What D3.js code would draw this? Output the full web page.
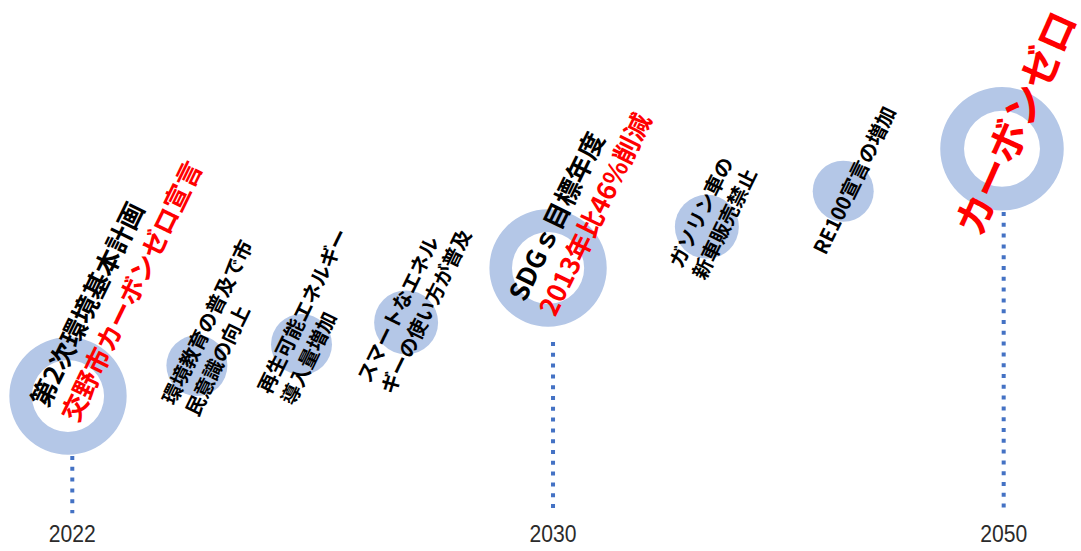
<!DOCTYPE html>
<html lang="ja">
<head>
<meta charset="utf-8">
<title>交野市 カーボンゼロへの道のり</title>
<script src="https://cdn.jsdelivr.net/npm/d3@7"></script>
<style>
  html, body { margin: 0; padding: 0; background: #ffffff; }
  svg { display: block; }
</style>
</head>
<body>
<div id="chart"></div>
<script>
// Milestones on the road to zero carbon
const milestones = [
  ["第2次環境基本計画", "交野市カーボンゼロ宣言"],
  ["環境教育の普及で市", "民意識の向上"],
  ["再生可能エネルギー", "導入量増加"],
  ["スマートなエネル", "ギーの使い方が普及"],
  ["SDGｓ目標年度", "2013年比46%削減"],
  ["ガソリン車の", "新車販売禁止"],
  ["RE100宣言の増加"],
  ["カーボンゼロ"]
];
// Timeline position of each milestone
const timelinePos = [0, 1.38, 2.5, 3.62, 5.14, 6.84, 8.3, 10];
// Height of each milestone above the baseline
const heightValues = [3.1, 3.86, 4.39, 4.94, 6.3, 7.33, 8.22, 9.28];
// Bubble size (area units)
const bubbleSizes = [3.7, 1, 1, 1.1, 3.7, 1.1, 1, 4.1];
// Major milestones drawn as rings
const isMajor = [true, false, false, false, true, false, false, true];
// Which label lines are highlighted targets
const highlightLines = [[false, true], [false, false], [false, false], [false, false],
                        [false, true], [false, false], [false], [true]];

// Year ticks
const yearLabels = ["2022", "2030", "2050"];
const yearPos = [0.046, 5.193, 10.018];
const dropTop = [1.6, 4.45, 7.7];
const dropBottom = 0.17;

// ---- layout ----
const W = 1081, H = 551;
const labelLayout = [
  { dx: -31, dy: 8,  size: 26, angle: -64 },
  { dx: -30, dy: 37, size: 20, angle: -64 },
  { dx: -39, dy: 47, size: 20, angle: -64 },
  { dx: -44, dy: 58, size: 20, angle: -64 },
  { dx: -33.5, dy: 30, size: 26, angle: -64 },
  { dx: -33, dy: 39, size: 20, angle: -64 },
  { dx: -25, dy: 61, size: 20, angle: -64 },
  { dx: -37, dy: 83, size: 40, angle: -66 }
];
const lineGap = 1.3;

const svg = d3.select("#chart").append("svg")
  .attr("width", W).attr("height", H);

const x = d3.scaleLinear().domain([0, 10]).range([68, 1002]);
const y = d3.scaleLinear().domain([0, 10]).range([520, 120]);
const r = d3.scaleSqrt().domain([0, 1]).range([0, 30.5]);

const bubbleColor = "#B4C7E7";
const lineColor = "#4472C4";

// dotted drop lines under the major milestones
svg.append("g").selectAll("line")
  .data(yearPos)
  .join("line")
  .attr("x1", d => x(d)).attr("x2", d => x(d))
  .attr("y1", (d, i) => y(dropTop[i]))
  .attr("y2", y(dropBottom))
  .attr("stroke", lineColor)
  .attr("stroke-width", 4)
  .attr("stroke-dasharray", "4 6.8");

// year labels
svg.append("g").selectAll("text")
  .data(yearLabels)
  .join("text")
  .attr("x", (d, i) => x(yearPos[i]))
  .attr("y", 541.5)
  .attr("text-anchor", "middle")
  .attr("font-family", "'Liberation Sans', Arial, sans-serif")
  .attr("font-size", 24)
  .attr("fill", "#2b2b2b")
  .attr("textLength", 47)
  .attr("lengthAdjust", "spacingAndGlyphs")
  .text(d => d);

const nodes = milestones.map((lines, i) => ({
  lines, i,
  cx: x(timelinePos[i]),
  cy: y(heightValues[i]),
  rad: r(bubbleSizes[i]),
  major: isMajor[i]
}));

// bubbles
const ring = d3.arc().startAngle(0).endAngle(2 * Math.PI);
const bub = svg.append("g");
bub.selectAll("path.ring")
  .data(nodes.filter(d => d.major))
  .join("path")
  .attr("class", "ring")
  .attr("transform", d => `translate(${d.cx},${d.cy})`)
  .attr("d", d => ring({ innerRadius: d.rad * 0.615, outerRadius: d.rad }))
  .attr("fill", bubbleColor);
bub.selectAll("circle")
  .data(nodes.filter(d => !d.major))
  .join("circle")
  .attr("cx", d => d.cx).attr("cy", d => d.cy).attr("r", d => d.rad)
  .attr("fill", bubbleColor);

// rotated labels
const lab = svg.append("g").selectAll("g")
  .data(nodes)
  .join("g")
  .attr("transform", d => {
    const L = labelLayout[d.i];
    return `translate(${d.cx + L.dx},${d.cy + L.dy}) rotate(${L.angle})`;
  })
  .attr("font-family", "'Noto Sans CJK JP', 'Noto Sans', sans-serif")
  .attr("font-weight", 700)
  .attr("font-size", d => labelLayout[d.i].size);

lab.selectAll("text")
  .data(d => d.lines.map((t, k) => ({ t, k, node: d })))
  .join("text")
  .attr("x", 0)
  .attr("y", d => d.k * labelLayout[d.node.i].size * lineGap)
  .attr("dominant-baseline", "central")
  .attr("fill", d => highlightLines[d.node.i][d.k] ? "#FF0000" : "#000000")
  .text(d => d.t);
</script>
</body>
</html>
